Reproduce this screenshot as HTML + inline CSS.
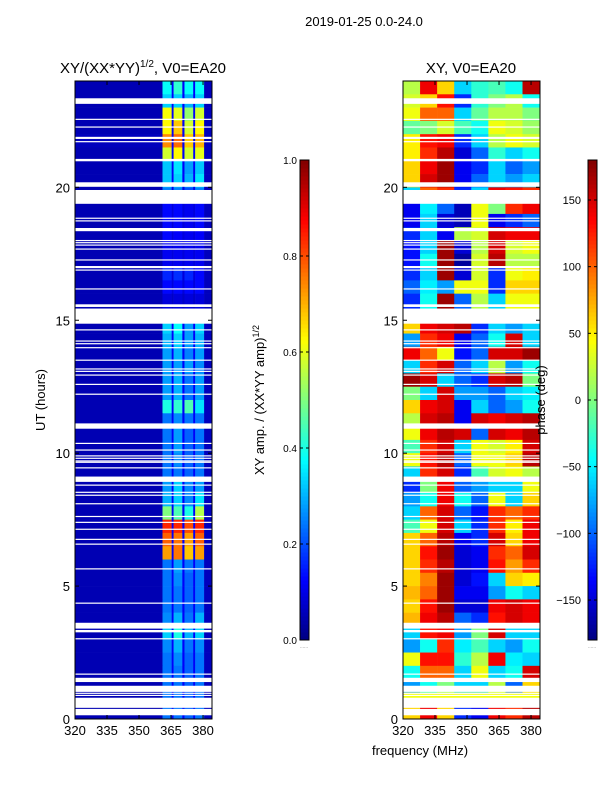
<!DOCTYPE html>
<html><head><meta charset="utf-8">
<style>
body{margin:0;background:#fff;}
svg{display:block;font-family:"Liberation Sans",sans-serif;}
</style></head>
<body>
<svg id="chart" width="600" height="800" xmlns="http://www.w3.org/2000/svg">
<text x="364" y="26" font-size="13" text-anchor="middle">2019-01-25 0.0-24.0</text>
<text x="143" y="73" font-size="15" text-anchor="middle">XY/(XX*YY)<tspan font-size="10" dy="-6">1/2</tspan><tspan dy="6">, V0=EA20</tspan></text>
<text x="471" y="73" font-size="15" text-anchor="middle">XY, V0=EA20</text>
<text transform="translate(45,400) rotate(-90)" font-size="13" text-anchor="middle">UT (hours)</text>
<text x="420" y="755" font-size="13" text-anchor="middle">frequency (MHz)</text>
<text transform="translate(264,400) rotate(-90)" font-size="13" text-anchor="middle">XY amp. / (XX*YY amp)<tspan font-size="9" dy="-5">1/2</tspan></text>
<g id="left"></g>
<g id="right"></g>
<g id="cb1"></g>
<g id="cb2"></g>
<text transform="translate(545,400) rotate(-90)" font-size="13" text-anchor="middle">phase (deg)</text>
</svg>
<script>
const ampFreqEdges = [320,361,365.3,366.2,370.3,371.3,375.4,376.3,380.5,384];
const ampRows = [
[0.05,0.38,0.12,0.42,0.12,0.38,0.12,0.38,0.06],
[0.05,0.33,0.12,0.33,0.12,0.3,0.12,0.33,0.06],
[0.05,0.62,0.12,0.6,0.12,0.52,0.12,0.58,0.06],
[0.05,0.63,0.12,0.68,0.12,0.58,0.12,0.63,0.06],
[0.06,0.74,0.12,0.77,0.12,0.68,0.12,0.7,0.06],
[0.05,0.58,0.12,0.63,0.12,0.58,0.12,0.6,0.06],
[0.05,0.32,0.12,0.35,0.12,0.28,0.12,0.32,0.06],
[0.05,0.32,0.12,0.33,0.12,0.3,0.12,0.35,0.06],
[0.05,0.25,0.1,0.25,0.1,0.2,0.1,0.25,0.06],
[0.05,0.13,0.09,0.13,0.09,0.11,0.09,0.13,0.06],
[0.05,0.13,0.09,0.13,0.09,0.11,0.09,0.13,0.06],
[0.05,0.13,0.09,0.12,0.09,0.11,0.09,0.12,0.06],
[0.05,0.11,0.09,0.11,0.09,0.11,0.09,0.11,0.06],
[0.05,0.11,0.09,0.11,0.09,0.11,0.09,0.11,0.06],
[0.05,0.16,0.09,0.17,0.09,0.16,0.09,0.13,0.06],
[0.05,0.13,0.09,0.13,0.09,0.13,0.09,0.13,0.06],
[0.05,0.09,0.07,0.09,0.07,0.09,0.07,0.09,0.06],
[0.05,0.09,0.07,0.09,0.07,0.09,0.07,0.09,0.06],
[0.05,0.33,0.12,0.38,0.12,0.28,0.12,0.33,0.06],
[0.05,0.3,0.12,0.33,0.12,0.28,0.12,0.3,0.06],
[0.05,0.28,0.12,0.3,0.12,0.25,0.12,0.28,0.06],
[0.05,0.28,0.12,0.28,0.12,0.28,0.12,0.26,0.06],
[0.05,0.28,0.12,0.3,0.12,0.24,0.12,0.28,0.06],
[0.05,0.28,0.12,0.3,0.12,0.24,0.12,0.28,0.06],
[0.05,0.4,0.12,0.42,0.12,0.45,0.12,0.35,0.06],
[0.05,0.24,0.12,0.26,0.12,0.24,0.12,0.24,0.06],
[0.05,0.24,0.12,0.28,0.12,0.22,0.12,0.24,0.06],
[0.05,0.24,0.12,0.28,0.12,0.22,0.12,0.24,0.06],
[0.05,0.24,0.12,0.26,0.12,0.22,0.12,0.24,0.06],
[0.05,0.24,0.12,0.24,0.12,0.22,0.12,0.24,0.06],
[0.05,0.28,0.12,0.33,0.12,0.26,0.12,0.28,0.06],
[0.05,0.3,0.12,0.33,0.12,0.26,0.12,0.35,0.06],
[0.05,0.5,0.12,0.45,0.12,0.4,0.12,0.55,0.06],
[0.05,0.84,0.12,0.84,0.12,0.8,0.12,0.84,0.06],
[0.05,0.78,0.12,0.76,0.12,0.72,0.12,0.78,0.06],
[0.05,0.72,0.12,0.76,0.12,0.68,0.12,0.72,0.06],
[0.05,0.24,0.12,0.28,0.12,0.24,0.12,0.24,0.06],
[0.05,0.24,0.12,0.26,0.12,0.22,0.12,0.24,0.06],
[0.05,0.24,0.12,0.24,0.12,0.22,0.12,0.24,0.06],
[0.05,0.24,0.12,0.24,0.12,0.22,0.12,0.24,0.06],
[0.05,0.26,0.12,0.3,0.12,0.24,0.12,0.3,0.06],
[0.05,0.33,0.12,0.4,0.12,0.3,0.12,0.33,0.06],
[0.05,0.26,0.12,0.3,0.12,0.24,0.12,0.26,0.06],
[0.05,0.24,0.12,0.26,0.12,0.22,0.12,0.24,0.06],
[0.05,0.24,0.12,0.24,0.12,0.22,0.12,0.24,0.06],
[0.05,0.24,0.12,0.24,0.12,0.22,0.12,0.24,0.06],
[0.05,0.24,0.12,0.24,0.12,0.22,0.12,0.24,0.06],
[0.05,0.24,0.12,0.24,0.12,0.22,0.12,0.24,0.06]
];
const phaseFreqEdges = [320,328,336,344,352,360,368,376,384];
const phaseRows = [
[20,140,60,-60,-30,-20,-40,160],
[30,60,130,-120,-30,0,20,-40],
[40,100,100,-60,-10,20,20,0],
[-10,0,30,-20,-40,40,30,10],
[50,130,140,-120,-60,20,40,30],
[50,120,160,-150,-100,-30,-60,-40],
[60,140,170,-140,-120,-60,-100,-80],
[60,150,170,-140,-100,-60,-80,-60],
[-60,100,120,-120,-60,140,130,120],
[-140,-50,-100,-160,40,0,120,140],
[-140,-60,-150,-160,40,-140,-120,-100],
[-120,-60,-140,20,30,150,140,140],
[-130,-60,170,-150,20,150,30,40],
[-130,-40,170,-170,30,160,20,20],
[-120,-60,170,-150,30,-120,40,50],
[-100,-50,-80,40,40,-120,60,60],
[-120,-40,170,-100,20,-60,40,40],
[-120,-40,170,-100,20,-60,40,40],
[60,140,150,160,-120,-60,-80,-60],
[-80,120,140,-140,-100,-40,150,-60],
[140,100,40,-130,-100,150,150,170],
[-60,120,150,-100,-60,20,-80,-40],
[170,150,-60,-100,-120,150,160,0],
[0,-60,150,-80,-80,-100,-60,-50],
[60,140,150,-140,-60,-100,-80,-40],
[20,150,160,-140,150,140,150,160],
[40,140,160,150,-100,150,140,160],
[-20,120,150,-60,40,30,50,150],
[40,130,160,-100,40,40,60,160],
[-60,120,150,-120,-20,30,40,20],
[-120,0,140,-100,-80,-60,-60,40],
[-80,-40,140,-40,-100,40,-60,60],
[-60,100,150,-100,-130,120,100,120],
[-20,40,150,-60,-120,120,50,140],
[60,100,160,-140,-120,150,60,140],
[60,130,170,-150,-140,120,100,150],
[60,120,160,-150,-140,130,80,120],
[60,90,170,-150,-130,-60,60,50],
[70,100,170,-140,-140,-80,-40,-60],
[60,130,170,-150,-150,140,150,140],
[70,140,160,-100,-120,130,150,140],
[-60,130,140,-80,0,150,-60,-60],
[-80,-40,120,-50,-20,-60,-80,-40],
[40,130,130,-30,20,140,-50,-60],
[-40,100,100,-60,40,-60,-40,150],
[-80,-40,0,-60,-60,20,-100,60],
[40,40,40,40,40,40,40,40],
[60,140,60,-120,-140,140,120,160]
];
const flagged = [[23.2,23.35],[23.14,23.22],[22.54,22.58],[22.25,22.29],[21.82,21.9],[21.7,21.74],[20.98,21.07],[20.02,20.19],[19.38,19.9],[18.83,18.86],[18.73,18.76],[18.35,18.47],[17.99,18.02],[17.91,17.94],[17.82,17.85],[17.67,17.7],[17.26,17.29],[16.96,17.04],[16.88,16.91],[16.17,16.2],[15.5,15.6],[14.87,15.44],[14.63,14.66],[14.21,14.24],[14.11,14.14],[13.96,13.99],[13.49,13.52],[13.16,13.19],[13.07,13.1],[12.93,12.96],[12.58,12.61],[12.21,12.24],[10.92,11.12],[10.36,10.39],[10.1,10.14],[9.89,9.92],[9.8,9.83],[9.7,9.73],[9.65,9.68],[9.44,9.47],[8.92,9.12],[8.79,8.82],[8.52,8.55],[8.41,8.44],[8.09,8.12],[7.61,7.64],[7.39,7.42],[7.13,7.16],[6.75,6.78],[6.57,6.6],[5.64,5.67],[4.35,4.38],[3.4,3.62],[3.26,3.35],[3.01,3.04],[1.68,1.71],[1.39,1.55],[1.02,1.25],[0.96,0.99],[0.88,0.91],[0.42,0.8],[0.14,0.38]];
const xTicks = [320,335,350,365,380];
const yTicks = [0,5,10,15,20];
const ampCbTicks = [0.0,0.2,0.4,0.6,0.8,1.0];
const phaseCbTicks = [-150,-100,-50,0,50,100,150];

const NS="http://www.w3.org/2000/svg";
function jet(v){v=Math.max(0,Math.min(1,v));
 const f=(x)=>Math.max(0,Math.min(1,1.5-Math.abs(4*v-x)));
 const r=f(3),g=f(2),b=f(1);
 return `rgb(${Math.round(r*255)},${Math.round(g*255)},${Math.round(b*255)})`;}
function el(tag,attrs,parent){const e=document.createElementNS(NS,tag);for(const k in attrs)e.setAttribute(k,attrs[k]);parent.appendChild(e);return e;}
const Y0=719,Y1=81,HMAX=24;
const yScale=(h)=>Y0-(h/HMAX)*(Y0-Y1);
function xScaleFor(x0){return (f)=>x0+(f-320)*(137/64.2);}

function drawPanel(g,x0,edges,rows,colorOf,name){
 const xs=xScaleFor(x0);
 const n=rows.length, dh=HMAX/n;
 rows.forEach((row,i)=>{
  const hTop=HMAX-i*dh, hBot=hTop-dh;
  row.forEach((v,j)=>{
   const r=el('rect',{x:xs(edges[j]),y:yScale(hTop),width:xs(edges[j+1])-xs(edges[j])+0.3,height:yScale(hBot)-yScale(hTop)+0.3,fill:colorOf(v)},g);
   
   
  });
 });
 flagged.forEach(([a,b])=>{
  const r=el('rect',{x:x0,y:yScale(b),width:137,height:Math.max(1.2,yScale(a)-yScale(b)),fill:'#fff'},g);
  
  
 });
 const fr=el('rect',{x:x0,y:Y1,width:137,height:Y0-Y1,fill:'none',stroke:'#000','stroke-width':1},g);
 
 
 xTicks.forEach(t=>{const x=xs(t);
  el('line',{x1:x,x2:x,y1:Y0,y2:Y0-4,stroke:'#000'},g);
  el('line',{x1:x,x2:x,y1:Y1,y2:Y1+4,stroke:'#000'},g);
  const tx=el('text',{x:x,y:Y0+16,'font-size':13,'text-anchor':'middle'},g);tx.textContent=t;
  
  
 });
 yTicks.forEach(t=>{const y=yScale(t);
  el('line',{x1:x0,x2:x0+4,y1:y,y2:y,stroke:'#000'},g);
  el('line',{x1:x0+137,x2:x0+133,y1:y,y2:y,stroke:'#000'},g);
  const tx=el('text',{x:x0-5,y:y+5,'font-size':13,'text-anchor':'end'},g);tx.textContent=t;
  
  
 });
}
drawPanel(document.getElementById('left'),75,ampFreqEdges,ampRows,(v)=>jet(v),'amplitude');
drawPanel(document.getElementById('right'),403,phaseFreqEdges,phaseRows,(v)=>jet((v+180)/360),'phase');

function drawCb(g,x0,vmin,vmax,ticks,fmt){
 const top=160,bot=640,N=120;
 for(let i=0;i<N;i++){
  const r=el('rect',{x:x0,y:bot-(i+1)*(bot-top)/N,width:9,height:(bot-top)/N+0.5,fill:jet((i+0.5)/N)},g);
  
  
 }
 el('rect',{x:x0,y:top,width:9,height:bot-top,fill:'none',stroke:'#000','stroke-width':1},g);
 ticks.forEach(t=>{const y=bot-(t-vmin)/(vmax-vmin)*(bot-top);
  el('line',{x1:x0,x2:x0+3,y1:y,y2:y,stroke:'#000'},g);
  el('line',{x1:x0+9,x2:x0+6,y1:y,y2:y,stroke:'#000'},g);
  const tx=el('text',{x:fmt?x0-3:x0-7,y:y+4,'font-size':fmt?10:11,'text-anchor':'end'},g);
  tx.textContent=fmt?t.toFixed(1):(t<0?'\u2212'+(-t):t);
  
  
 });
 const d=el('text',{x:x0+4,y:648,'font-size':5,'text-anchor':'middle',fill:'#888'},g);d.textContent='......';
}
drawCb(document.getElementById('cb1'),300,0,1,ampCbTicks,true);
drawCb(document.getElementById('cb2'),588,-180,180,phaseCbTicks,false);
</script>
</body></html>
